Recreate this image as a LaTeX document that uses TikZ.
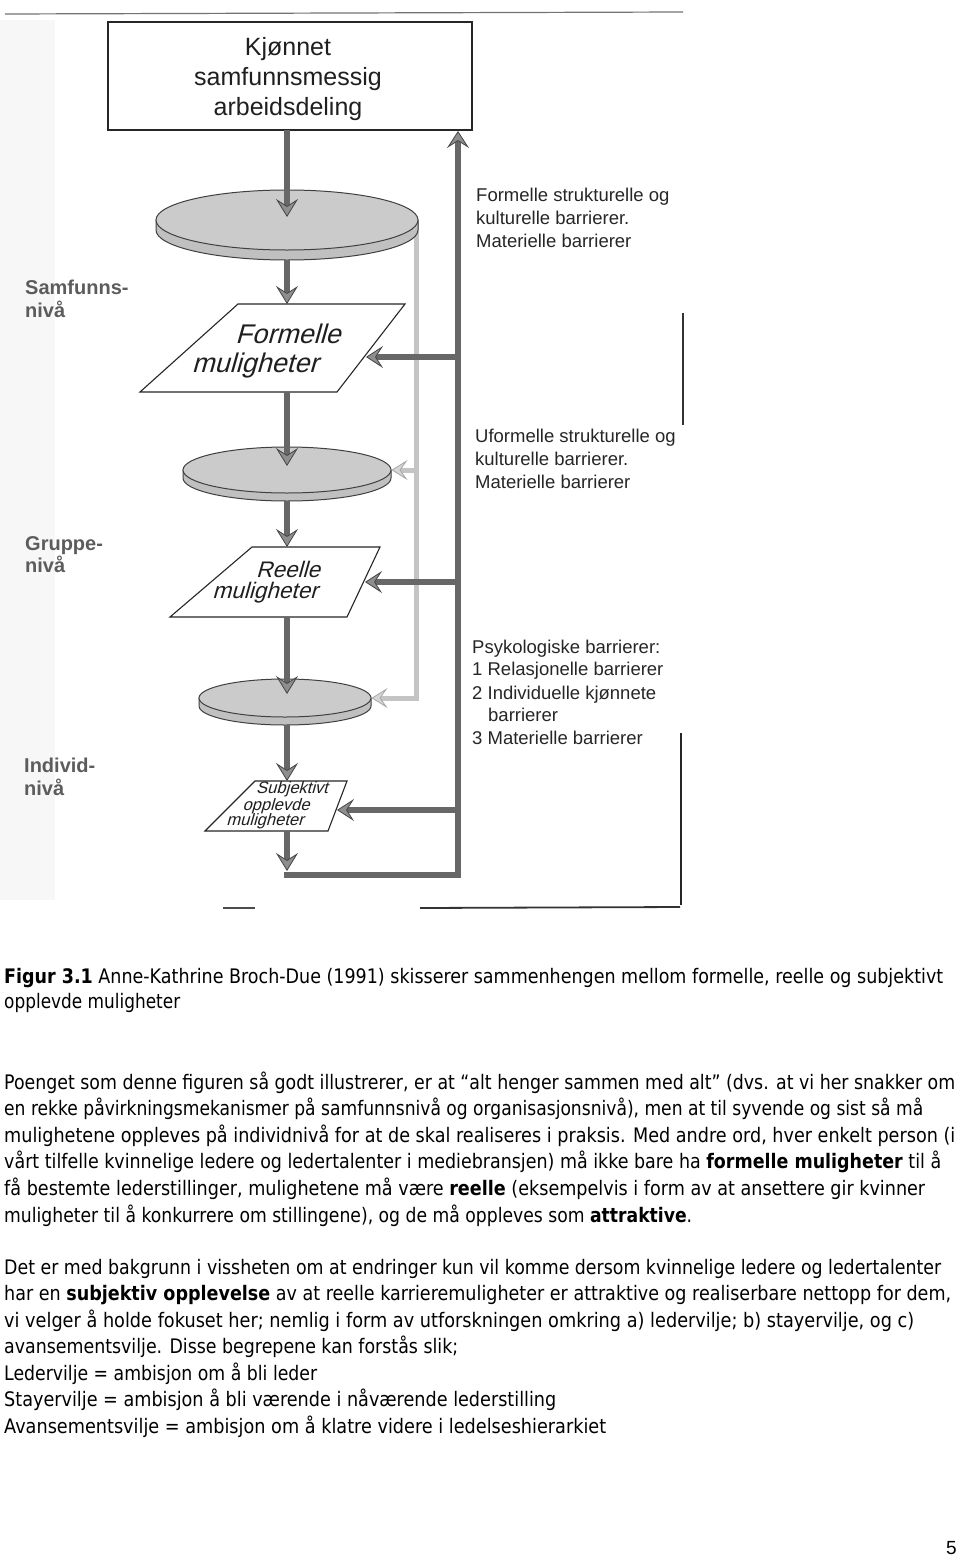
\documentclass[tikz,border=0pt]{standalone}
\usepackage{fontspec}
\usepackage{graphicx}
\setmainfont{Liberation Sans}
\newfontfamily\oblfont[FakeSlant=0.28]{Liberation Sans}
\newfontfamily\bodyfont{DejaVu Sans}
\usetikzlibrary{arrows.meta,shapes.geometric}
\definecolor{shaftgray}{HTML}{676767}
\definecolor{headgray}{HTML}{8E8E8E}
\definecolor{edgegray}{HTML}{454545}
\definecolor{lightshaft}{HTML}{C4C4C4}
\definecolor{lighthead}{HTML}{D6D6D6}
\definecolor{lightedge}{HTML}{A6A6A6}
\definecolor{diskgray}{HTML}{CBCBCB}
\definecolor{rimgray}{HTML}{C0C0C0}
\definecolor{labelgray}{HTML}{5C5C5C}
\tikzset{
  boxstyle/.style={draw=black!85, line width=1.2pt, fill=white, minimum width=364pt, minimum height=108pt, inner sep=0pt},
  disktop/.style={ellipse, fill=diskgray, draw=black!75, line width=1pt, inner sep=0pt},
  diskrim/.style={fill=rimgray, draw=black!75, line width=1pt},
  parastyle/.style={draw=black!85, line width=1.1pt, fill=white, line join=miter},
  carrow/.style={draw=shaftgray, line width=6pt, -{Stealth[length=18pt,width=22pt,inset=7pt,line width=0.8pt,color=edgegray,fill=headgray]}},
  darkline/.style={draw=shaftgray, line width=6pt, line join=miter, -{Stealth[length=17pt,width=22pt,inset=7pt,line width=0.8pt,color=edgegray,fill=headgray]}},
  lightline/.style={draw=lightshaft, line width=5pt, line join=miter, -{Stealth[length=16pt,width=20pt,inset=7pt,line width=0.8pt,color=lightedge,fill=lighthead]}},
  boxtxt/.style={anchor=base, inner sep=0pt, font=\fontsize{25}{30}\selectfont, text=black!88},
  sidetxt/.style={anchor=base west, inner sep=0pt, font=\fontsize{18.5}{23}\selectfont, text=black!85},
  leveltxt/.style={anchor=base west, inner sep=0pt, font=\fontsize{20}{24}\selectfont\bfseries, text=labelgray},
  paratxt/.style={anchor=base, inner sep=0pt, text=black!88},
  bodytxt/.style={anchor=base west, inner sep=0pt, font=\bodyfont\fontsize{20}{26}\selectfont}
}
\newcommand{\tline}[5]{\node[bodytxt] (#1) at (#2,#3) {\resizebox{#4pt}{\height}{#5}};}
\begin{document}
\begin{tikzpicture}[x=1pt,y=-1pt]
\useasboundingbox (0,0) rectangle (960,1558);
\fill[white] (0,0) rectangle (960,1558);
% scan artefacts
\fill[black!3] (0,20) rectangle (55,900);
\draw[black!55, line width=1.2pt] (5,14) -- (683,12);
\draw[black!80, line width=1.5pt] (683,313) -- (683,425);
\draw[black!85, line width=1.8pt] (681,733) -- (681,905);
\draw[black!70, line width=1.5pt] (223,908) -- (255,908);
\draw[black!80, line width=1.8pt] (420,908) -- (680,907);

% top box
\node[boxstyle] (top) at (290,76) {};
\node[boxtxt] (k1) at (288,55) {Kjønnet};
\node[boxtxt] (k2) at (288,85) {samfunnsmessig};
\node[boxtxt] (k3) at (288,115) {arbeidsdeling};

% light gray connector coordinates
\coordinate (lt) at (416,222);
\coordinate (lb) at (416,698);
\coordinate (lm) at (416,470);

% disks
\filldraw[diskrim] (183,470) -- (183,478) arc[start angle=180,end angle=0,x radius=104,y radius=23] -- (391,470) -- cycle;
\node[disktop, minimum width=208pt, minimum height=46pt] (d2) at (287,470) {};
\filldraw[diskrim] (199,698) -- (199,706) arc[start angle=180,end angle=0,x radius=86,y radius=19] -- (371,698) -- cycle;
\node[disktop, minimum width=172pt, minimum height=38pt] (d3) at (285,698) {};

\draw[lightline] (lt) -- (lb) -- (d3.east);
\draw[lightline] (lm) -- (d2.east);
\filldraw[diskrim] (156,220) -- (156,230) arc[start angle=180,end angle=0,x radius=131,y radius=30] -- (418,220) -- cycle;
\node[disktop, minimum width=262pt, minimum height=60pt] (d1) at (287,220) {};

% parallelograms
\coordinate (p1tl) at (238,304); \coordinate (p1tr) at (405,304);
\coordinate (p1br) at (337,392); \coordinate (p1bl) at (140,392);
\coordinate (p2tl) at (252,547); \coordinate (p2tr) at (380,547);
\coordinate (p2br) at (347,617); \coordinate (p2bl) at (170,617);
\coordinate (p3tl) at (255,781); \coordinate (p3tr) at (347,781);
\coordinate (p3br) at (328,831); \coordinate (p3bl) at (205,831);
\filldraw[parastyle] (p1tl) -- (p1tr) -- (p1br) -- (p1bl) -- cycle;
\filldraw[parastyle] (p2tl) -- (p2tr) -- (p2br) -- (p2bl) -- cycle;
\filldraw[parastyle] (p3tl) -- (p3tr) -- (p3br) -- (p3bl) -- cycle;
\coordinate (p1n) at (287,304); \coordinate (p1s) at (287,392);
\coordinate (p2n) at (287,547); \coordinate (p2s) at (287,617);
\coordinate (p3n) at (287,781); \coordinate (p3s) at (287,831);
\coordinate (p1e) at (366,357); \coordinate (p2e) at (365,582); \coordinate (p3e) at (337,810);

\node[paratxt, font=\oblfont\fontsize{27}{30}\selectfont] (f1) at (288,343) {Formelle};
\node[paratxt, font=\oblfont\fontsize{27}{30}\selectfont] (f2) at (255,372) {muligheter};
\node[paratxt, font=\oblfont\fontsize{22.5}{26}\selectfont] (r1) at (288,577) {Reelle};
\node[paratxt, font=\oblfont\fontsize{22.5}{26}\selectfont] (r2) at (265,598) {muligheter};
\node[paratxt, font=\oblfont\fontsize{16.5}{18}\selectfont] (s1) at (292,793) {Subjektivt};
\node[paratxt, font=\oblfont\fontsize{16.5}{18}\selectfont] (s2) at (276,810) {opplevde};
\node[paratxt, font=\oblfont\fontsize{16.5}{18}\selectfont] (s3) at (265,825) {muligheter};

% central arrows
\coordinate (a1s) at (287,130);
\coordinate (d1t) at (287,217);
\coordinate (d1s) at (287,260);
\coordinate (d2t) at (287,466);
\coordinate (d2s) at (287,501);
\coordinate (d3t) at (287,694);
\coordinate (d3s) at (287,725);
\coordinate (endt) at (287,871);
\draw[carrow] (a1s) -- (d1t);
\draw[carrow] (d1s) -- (p1n);
\draw[carrow] (p1s) -- (d2t);
\draw[carrow] (d2s) -- (p2n);
\draw[carrow] (p2s) -- (d3t);
\draw[carrow] (d3s) -- (p3n);
\draw[carrow] (p3s) -- (endt);

% dark feedback loop
\coordinate (loopstart) at (284,875);
\coordinate (fbx) at (458,875);
\coordinate (fbtop) at (458,131);
\coordinate (b1) at (458,357);
\coordinate (b2) at (458,582);
\coordinate (b3) at (458,810);
\draw[darkline] (loopstart) -- (fbx) -- (fbtop);
\draw[darkline] (b1) -- (p1e);
\draw[darkline] (b2) -- (p2e);
\draw[darkline] (b3) -- (p3e);

% side texts
\node[sidetxt] (rt1a) at (476,201) {Formelle strukturelle og};
\node[sidetxt] (rt1b) at (476,224) {kulturelle barrierer.};
\node[sidetxt] (rt1c) at (476,247) {Materielle barrierer};
\node[sidetxt] (rt2a) at (475,442) {Uformelle strukturelle og};
\node[sidetxt] (rt2b) at (475,465) {kulturelle barrierer.};
\node[sidetxt] (rt2c) at (475,488) {Materielle barrierer};
\node[sidetxt] (rt3a) at (472,653) {Psykologiske barrierer:};
\node[sidetxt] (rt3b) at (472,675) {1 Relasjonelle barrierer};
\node[sidetxt] (rt3c) at (472,699) {2 Individuelle kjønnete};
\node[sidetxt] (rt3d) at (488,721) {barrierer};
\node[sidetxt] (rt3e) at (472,744) {3 Materielle barrierer};

% level labels
\node[leveltxt] (lv1a) at (25,294) {Samfunns-};
\node[leveltxt] (lv1b) at (25,317) {nivå};
\node[leveltxt] (lv2a) at (25,550) {Gruppe-};
\node[leveltxt] (lv2b) at (25,572) {nivå};
\node[leveltxt] (lv3a) at (24,772) {Individ-};
\node[leveltxt] (lv3b) at (24,795) {nivå};

% caption and body text
\tline{cap1}{4}{983}{939}{\textbf{Figur 3.1} Anne-Kathrine Broch-Due (1991) skisserer sammenhengen mellom formelle, reelle og subjektivt}
\tline{cap2}{4}{1008}{176}{opplevde muligheter}
\tline{p1a}{4}{1089}{951}{Poenget som denne figuren så godt illustrerer, er at “alt henger sammen med alt” (dvs. at vi her snakker om}
\tline{p1b}{4}{1115}{919}{en rekke påvirkningsmekanismer på samfunnsnivå og organisasjonsnivå), men at til syvende og sist så må}
\tline{p1c}{4}{1142}{951}{mulighetene oppleves på individnivå for at de skal realiseres i praksis. Med andre ord, hver enkelt person (i}
\tline{p1d}{4}{1168}{937}{vårt tilfelle kvinnelige ledere og ledertalenter i mediebransjen) må ikke bare ha \textbf{formelle muligheter} til å}
\tline{p1e}{4}{1195}{921}{få bestemte lederstillinger, mulighetene må være \textbf{reelle} (eksempelvis i form av at ansettere gir kvinner}
\tline{p1f}{4}{1222}{688}{muligheter til å konkurrere om stillingene), og de må oppleves som \textbf{attraktive}.}
\tline{p2a}{4}{1274}{937}{Det er med bakgrunn i vissheten om at endringer kun vil komme dersom kvinnelige ledere og ledertalenter}
\tline{p2b}{4}{1300}{947}{har en \textbf{subjektiv opplevelse} av at reelle karrieremuligheter er attraktive og realiserbare nettopp for dem,}
\tline{p2c}{4}{1327}{910}{vi velger å holde fokuset her; nemlig i form av utforskningen omkring a) ledervilje; b) stayervilje, og c)}
\tline{p2d}{4}{1353}{454}{avansementsvilje. Disse begrepene kan forstås slik;}
\tline{p2e}{4}{1380}{313}{Ledervilje = ambisjon om å bli leder}
\tline{p2f}{4}{1406}{552}{Stayervilje = ambisjon å bli værende i nåværende lederstilling}
\tline{p2g}{4}{1433}{602}{Avansementsvilje = ambisjon om å klatre videre i ledelseshierarkiet}
\node[anchor=base east, inner sep=0pt, font=\fontsize{19}{22}\selectfont] (pg) at (957,1554) {5};
\end{tikzpicture}
\end{document}
